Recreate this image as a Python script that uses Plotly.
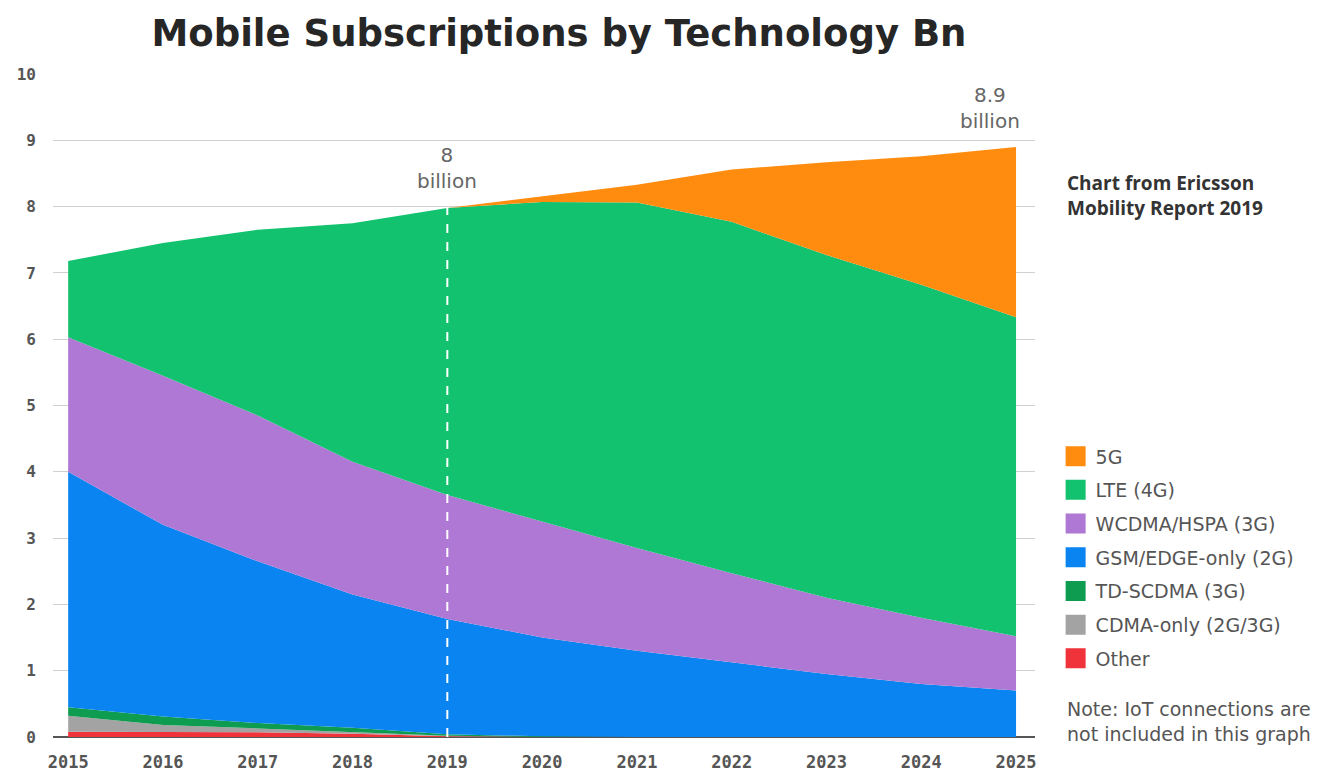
import plotly.graph_objects as go

years = [2015, 2016, 2017, 2018, 2019, 2020, 2021, 2022, 2023, 2024, 2025]

# Values in billions (stacked bottom -> top)
other = [0.08, 0.08, 0.07, 0.05, 0.01, 0, 0, 0, 0, 0, 0]
cdma = [0.24, 0.10, 0.06, 0.03, 0.01, 0, 0, 0, 0, 0, 0]
td_scdma = [0.13, 0.13, 0.08, 0.06, 0.02, 0.01, 0, 0, 0, 0, 0]
gsm = [3.55, 2.89, 2.44, 2.01, 1.74, 1.49, 1.30, 1.12, 0.95, 0.80, 0.70]
wcdma = [2.03, 2.25, 2.20, 2.00, 1.87, 1.75, 1.55, 1.35, 1.15, 1.00, 0.82]
lte = [1.15, 2.00, 2.80, 3.60, 4.33, 4.82, 5.21, 5.30, 5.17, 5.02, 4.81]
g5 = [0, 0, 0, 0, 0, 0.08, 0.27, 0.79, 1.40, 1.94, 2.57]

series_names = ["Other", "CDMA-only (2G/3G)", "TD-SCDMA (3G)", "GSM/EDGE-only (2G)",
                "WCDMA/HSPA (3G)", "LTE (4G)", "5G"]
series_values = [other, cdma, td_scdma, gsm, wcdma, lte, g5]
series_colors = ["#F0323A", "#A3A3A3", "#0E9C50", "#0A84F0", "#AE78D4", "#12C26F", "#FF8C0F"]

y_ticks = list(range(0, 11))
marker_year = 2019
marker_label = "8<br>billion"
end_label = "8.9<br>billion"

fig = go.Figure()

for name, vals, col in zip(series_names, series_values, series_colors):
    fig.add_trace(go.Scatter(
        x=years, y=vals, name=name, stackgroup="one", mode="lines",
        line=dict(width=0, color=col), fillcolor=col, showlegend=False,
        hoverinfo="x+y+name",
    ))

# Legend entries (square swatches), listed top (5G) to bottom (Other)
for i, (name, col) in enumerate(zip(series_names[::-1], series_colors[::-1])):
    fig.add_trace(go.Scatter(
        x=[None], y=[None], mode="markers", name=name,
        marker=dict(symbol="square", size=16, color=col, line=dict(color=col, width=4)),
        legendgroup=f"g{i}", showlegend=True,
    ))

totals = [sum(v) for v in zip(*series_values)]
idx = years.index(marker_year)

fig.add_shape(type="line", x0=marker_year, x1=marker_year, y0=0, y1=totals[idx],
              xref="x", yref="y", line=dict(color="white", width=2, dash="dash"),
              layer="above")

ann_font = dict(family="DejaVu Sans", size=20, color="#666666")
fig.add_annotation(x=marker_year, y=totals[idx] + 0.6, text=marker_label, showarrow=False,
                   font=ann_font, align="center")
fig.add_annotation(x=years[-1] - 0.27, y=totals[-1] + 0.58, text=end_label, showarrow=False,
                   font=ann_font, align="center")

fig.add_annotation(xref="paper", yref="paper", x=1.031, y=0.816, xanchor="left", yanchor="middle",
                   text="<b>Chart from Ericsson<br>Mobility Report 2019</b>", showarrow=False,
                   align="left", font=dict(family="Open Sans", size=19, color="#333333"))
fig.add_annotation(xref="paper", yref="paper", x=1.031, y=0.024, xanchor="left", yanchor="middle",
                   text="Note: IoT connections are<br>not included in this graph", showarrow=False,
                   align="left", font=dict(family="DejaVu Sans", size=19, color="#555555"))

fig.update_layout(
    width=1319, height=767,
    margin=dict(l=45, r=292, t=66, b=38),
    paper_bgcolor="white", plot_bgcolor="white",
    title=dict(text="Mobile Subscriptions by Technology Bn", x=0.4177, xanchor="center",
               y=0.967, yanchor="middle",
               font=dict(family="DejaVu Sans", size=37, color="#262626", weight="bold")),
    xaxis=dict(range=[2014.84, 2025.2], tickmode="array", tickvals=years,
               ticktext=[str(y) for y in years], showgrid=False, zeroline=False,
               showline=False, ticklabelstandoff=13, automargin=False,
               tickfont=dict(family="DejaVu Sans Mono", size=17, color="#555555", weight="bold")),
    yaxis=dict(range=[0, 10], tickmode="array", tickvals=y_ticks,
               ticktext=[str(t) for t in y_ticks], showgrid=True, gridcolor="#D0D0D0",
               gridwidth=1, zeroline=True, zerolinecolor="#555555", zerolinewidth=1.5,
               showline=False, ticklabelstandoff=16, automargin=False,
               tickfont=dict(family="DejaVu Sans Mono", size=16, color="#555555", weight="bold")),
    legend=dict(x=1.021, y=0.452, xanchor="left", yanchor="top", traceorder="grouped",
                tracegroupgap=6, font=dict(family="DejaVu Sans", size=19, color="#555555"),
                bgcolor="rgba(0,0,0,0)"),
    showlegend=True,
)

fig.write_html("out.html")
